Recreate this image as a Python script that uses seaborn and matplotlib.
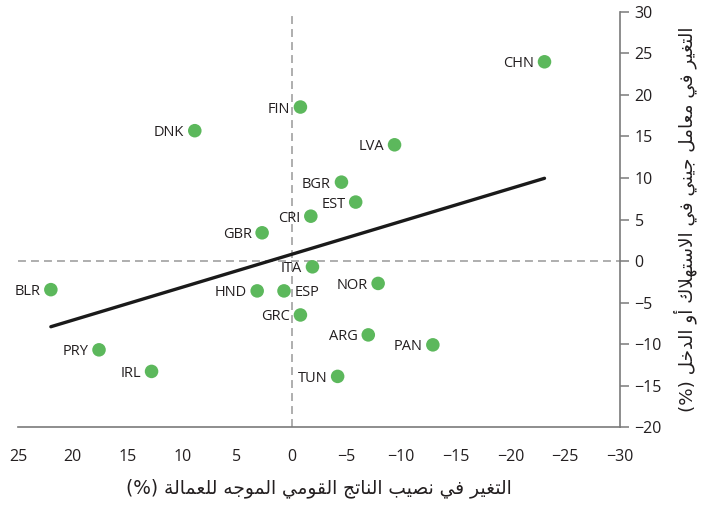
import matplotlib
matplotlib.use("Agg")
import matplotlib.pyplot as plt
import seaborn as sns
import pandas as pd

# Change in labour share of national income vs change in Gini coefficient
countries = ["CHN", "FIN", "DNK", "LVA", "BGR", "EST", "CRI", "GBR", "ITA", "NOR",
             "BLR", "HND", "ESP", "GRC", "ARG", "PAN", "PRY", "IRL", "TUN"]
labor_share_change = [-23.1, -0.8, 8.85, -9.4, -4.55, -5.85, -1.75, 2.7, -1.9, -7.9,
                      22.0, 3.15, 0.7, -0.8, -7.0, -12.9, 17.6, 12.8, -4.2]
gini_change = [24.0, 18.55, 15.7, 14.0, 9.5, 7.1, 5.4, 3.4, -0.7, -2.7,
               -3.45, -3.6, -3.6, -6.5, -8.9, -10.1, -10.7, -13.3, -13.9]
label_right = ["ESP"]

x_ticks = [25, 20, 15, 10, 5, 0, -5, -10, -15, -20, -25, -30]
y_ticks = [30, 25, 20, 15, 10, 5, 0, -5, -10, -15, -20]

x_title = "التغير في نصيب الناتج القومي الموجه للعمالة (%)"
y_title = "التغير في معامل جيني في الاستهلاك أو الدخل (%)"

# --- minimal Arabic shaping (contextual forms + right-to-left order) ---
FORMS = {  # isolated, final, initial, medial
    "ا": (0xFE8D, 0xFE8E, None, None),
    "أ": (0xFE83, 0xFE84, None, None),
    "ب": (0xFE8F, 0xFE90, 0xFE91, 0xFE92),
    "ة": (0xFE93, 0xFE94, None, None),
    "ت": (0xFE95, 0xFE96, 0xFE97, 0xFE98),
    "ج": (0xFE9D, 0xFE9E, 0xFE9F, 0xFEA0),
    "ح": (0xFEA1, 0xFEA2, 0xFEA3, 0xFEA4),
    "خ": (0xFEA5, 0xFEA6, 0xFEA7, 0xFEA8),
    "د": (0xFEA9, 0xFEAA, None, None),
    "ر": (0xFEAD, 0xFEAE, None, None),
    "س": (0xFEB1, 0xFEB2, 0xFEB3, 0xFEB4),
    "ص": (0xFEB9, 0xFEBA, 0xFEBB, 0xFEBC),
    "ع": (0xFEC9, 0xFECA, 0xFECB, 0xFECC),
    "غ": (0xFECD, 0xFECE, 0xFECF, 0xFED0),
    "ف": (0xFED1, 0xFED2, 0xFED3, 0xFED4),
    "ق": (0xFED5, 0xFED6, 0xFED7, 0xFED8),
    "ك": (0xFED9, 0xFEDA, 0xFEDB, 0xFEDC),
    "ل": (0xFEDD, 0xFEDE, 0xFEDF, 0xFEE0),
    "م": (0xFEE1, 0xFEE2, 0xFEE3, 0xFEE4),
    "ن": (0xFEE5, 0xFEE6, 0xFEE7, 0xFEE8),
    "ه": (0xFEE9, 0xFEEA, 0xFEEB, 0xFEEC),
    "و": (0xFEED, 0xFEEE, None, None),
    "ي": (0xFEF1, 0xFEF2, 0xFEF3, 0xFEF4),
    "\uFEFB": (0xFEFB, 0xFEFC, None, None),  # lam-alef ligature
}
LAM_ALEF = {"ا": "\uFEFB"}


def shape_arabic(text):
    chars = []
    i = 0
    while i < len(text):
        c = text[i]
        if c == "ل" and i + 1 < len(text) and text[i + 1] in LAM_ALEF:
            chars.append(LAM_ALEF[text[i + 1]])
            i += 2
        else:
            chars.append(c)
            i += 1
    out = []
    for k, c in enumerate(chars):
        if c not in FORMS:
            out.append(c)
            continue
        prev = chars[k - 1] if k > 0 else None
        nxt = chars[k + 1] if k + 1 < len(chars) else None
        iso, fin, ini, med = FORMS[c]
        join_prev = prev in FORMS and FORMS[prev][2] is not None
        join_next = ini is not None and nxt in FORMS
        if join_prev and join_next:
            code = med
        elif join_prev:
            code = fin
        elif join_next:
            code = ini
        else:
            code = iso
        out.append(chr(code))
    visual = "".join(reversed(out))
    return visual.translate(str.maketrans("()", ")("))


df = pd.DataFrame({"country": countries, "labor": labor_share_change, "gini": gini_change})

sns.set_theme(style="white")
plt.rcParams["font.family"] = ["Open Sans", "DejaVu Sans"]
plt.rcParams["axes.unicode_minus"] = True

text_color = "#231f20"
fig = plt.figure(figsize=(7.01, 5.08), dpi=100)
ax = fig.add_axes([0.0257, 0.1594, 0.8588, 0.817])

spine_color = "#7a7a7a"
ax.axhline(0, color="#a8a8a8", lw=1.3, ls=(0, (4.4, 2.8)), zorder=1)
ax.axvline(0, color="#a8a8a8", lw=1.3, ls=(0, (4.4, 2.8)), zorder=1)

sns.regplot(data=df, x="labor", y="gini", ax=ax, ci=None, truncate=True,
            scatter=False, line_kws=dict(color="#1a1a1a", lw=2.4, zorder=2))
sns.scatterplot(data=df, x="labor", y="gini", ax=ax, color="#5cb85c",
                s=95, edgecolor="none", zorder=3)

for name, xv, yv in zip(countries, labor_share_change, gini_change):
    if name in label_right:
        ax.annotate(name, (xv, yv), xytext=(7.5, 0), textcoords="offset points",
                    ha="left", va="center_baseline", fontsize=10.5, color=text_color)
    else:
        ax.annotate(name, (xv, yv), xytext=(-7.5, 0), textcoords="offset points",
                    ha="right", va="center_baseline", fontsize=10.5, color=text_color)

ax.set_xlim(25, -30)
ax.set_ylim(-20, 30)
ax.set_xticks(x_ticks)
ax.set_yticks(y_ticks)

ax.yaxis.tick_right()
ax.yaxis.set_label_position("right")
for side in ["top", "left"]:
    ax.spines[side].set_visible(False)
for side in ["bottom", "right"]:
    ax.spines[side].set_color(spine_color)
    ax.spines[side].set_linewidth(1.2)

ax.tick_params(axis="both", which="major", length=6.5, width=1.1, color=spine_color,
               labelsize=11.5, labelcolor=text_color, direction="out")
ax.tick_params(axis="x", pad=9)
ax.tick_params(axis="y", pad=4)

ax.set_xlabel(shape_arabic(x_title), fontsize=13.4, color=text_color,
              family=["DejaVu Sans"], labelpad=10)
ax.set_ylabel(shape_arabic(y_title), fontsize=13.2, color=text_color,
              family=["DejaVu Sans"], rotation=90, labelpad=8)

fig.savefig("out.png", dpi=100)
